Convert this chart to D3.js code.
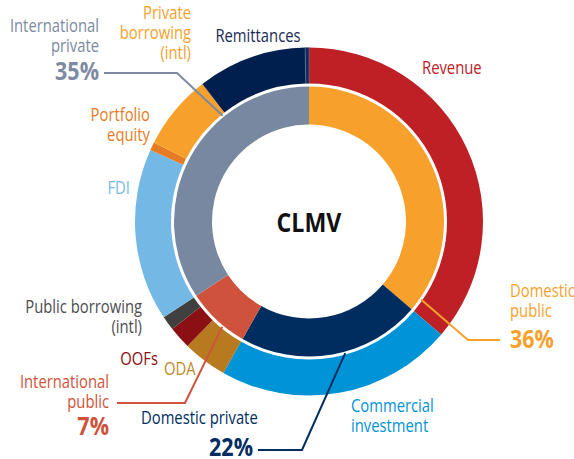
<!DOCTYPE html>
<html>
<head>
<meta charset="utf-8">
<script src="https://cdn.jsdelivr.net/npm/d3@7/dist/d3.min.js"></script>
<style>
  body { margin: 0; background: #fff; }
  svg { display: block; }
  text { font-family: "Open Sans", "Noto Sans", sans-serif; }
</style>
</head>
<body>
<svg id="chart" width="574" height="459"></svg>
<script>
// ---- data ----
const innerCategories = ["Domestic public", "Domestic private", "International public", "International private"];
const innerValues = [36.25, 21.94, 7.53, 34.28];
const innerPctLabels = ["36%", "22%", "7%", "35%"];

const outerCategories = ["Revenue", "Commercial investment", "ODA", "OOFs", "Public borrowing (intl)",
  "FDI", "Portfolio equity", "Private borrowing (intl)", "Remittances", "Other"];
const outerValues = [36.25, 21.94, 4.11, 2.08, 1.33, 16.03, 0.75, 7.0, 10.14, 0.36];

// ---- styles ----
const innerColors = ["#f7a12c", "#002d5f", "#cf533c", "#7888a0"];
const outerColors = ["#be2026", "#0093d6", "#b87a1e", "#8b1014", "#404041",
  "#74b9e5", "#e57b25", "#f7a12c", "#001f4e", "#0e2b5e"];

const cx = 309, cy = 221.5;
const outerR = [138, 174];
const innerR = [97, 135];
const SX = 0.78;      // horizontal condense for regular labels
const SXB = 0.86;     // horizontal condense for bold labels

const svg = d3.select("#chart");
const g = svg.append("g").attr("transform", `translate(${cx},${cy})`);

const pie = d3.pie().sort(null).value(d => d.v);

const outerData = pie(outerCategories.map((c, i) => ({ c, v: outerValues[i], col: outerColors[i] })));
const innerData = pie(innerCategories.map((c, i) => ({ c, v: innerValues[i], col: innerColors[i] })));

const arcOuter = d3.arc().innerRadius(outerR[0]).outerRadius(outerR[1]);
const arcInner = d3.arc().innerRadius(innerR[0]).outerRadius(innerR[1]);

g.selectAll("path.outer").data(outerData).enter().append("path")
  .attr("class", "outer")
  .attr("d", arcOuter)
  .attr("fill", d => d.data.col)
  .attr("stroke", d => d.data.c === "Other" ? "#6f82a6" : "none")
  .attr("stroke-width", 0.5);

g.selectAll("path.inner").data(innerData).enter().append("path")
  .attr("class", "inner")
  .attr("d", arcInner)
  .attr("fill", d => d.data.col);

// center label
svg.append("text")
  .attr("transform", `translate(${cx},${cy + 10}) scale(${SXB},1)`)
  .attr("text-anchor", "middle")
  .attr("font-size", 27).attr("font-weight", "bold").attr("fill", "#111")
  .text("CLMV");

// ---- labels (layout) ----
const labelFont = 19;
const labels = [
  { lines: ["International", "private"], x: 99, y: 32, anchor: "end", col: "#7d8aa1", pct: 3, pctY: 80 },
  { lines: ["Private", "borrowing", "(intl)"], x: 191, y: 19, anchor: "end", col: "#f7a12c" },
  { lines: ["Remittances"], x: 258, y: 42, anchor: "middle", col: "#1b2b57" },
  { lines: ["Revenue"], x: 422, y: 74, anchor: "start", col: "#be2026" },
  { lines: ["Portfolio", "equity"], x: 150, y: 121, anchor: "end", col: "#e57b25" },
  { lines: ["FDI"], x: 130, y: 194, anchor: "end", col: "#74b9e5" },
  { lines: ["Public borrowing", "(intl)"], x: 142, y: 313, anchor: "end", col: "#4d4d4f" },
  { lines: ["OOFs"], x: 158, y: 365, anchor: "end", col: "#8b1014" },
  { lines: ["ODA"], x: 164, y: 375, anchor: "start", col: "#c0892e" },
  { lines: ["International", "public"], x: 109, y: 388, anchor: "end", col: "#cf533c", pct: 2, pctY: 435 },
  { lines: ["Domestic private"], x: 141, y: 424, anchor: "start", col: "#002d5f", pct: 1, pctY: 456, pctX: 253, pctAnchor: "end" },
  { lines: ["Commercial", "investment"], x: 351, y: 412, anchor: "start", col: "#0093d6" },
  { lines: ["Domestic", "public"], x: 510, y: 297, anchor: "start", col: "#f7a12c", pct: 0, pctY: 348 }
];

labels.forEach(l => {
  const t = svg.append("text")
    .attr("transform", `translate(${l.x},${l.y}) scale(${SX},1)`)
    .attr("text-anchor", l.anchor)
    .attr("font-size", labelFont)
    .attr("fill", l.col);
  l.lines.forEach((s, i) => {
    t.append("tspan").attr("x", 0).attr("y", i * 20).text(s);
  });
  if (l.pct !== undefined) {
    const px = l.pctX !== undefined ? l.pctX : l.x;
    svg.append("text")
      .attr("transform", `translate(${px},${l.pctY}) scale(${SXB},1)`)
      .attr("text-anchor", l.pctAnchor || l.anchor)
      .attr("font-size", 25).attr("font-weight", "bold")
      .attr("fill", l.col)
      .text(innerPctLabels[l.pct]);
  }
});

// ---- leader lines ----
const deg = Math.PI / 180;
const leaders = [
  { start: [104, 73], elbow: [177, 73], angle: 320.8, col: "#7d8aa1" },
  { start: [117, 403], elbow: [185, 403], angle: 219.5, col: "#cf533c" },
  { start: [258, 450], elbow: [302, 450], angle: 164.6, col: "#002d5f" },
  { start: [500, 340], elbow: [468, 340], angle: 124.8, col: "#f7a12c" }
];
const ra = 136.5;
leaders.forEach(l => {
  const end = [cx + ra * Math.sin(l.angle * deg), cy - ra * Math.cos(l.angle * deg)];
  svg.append("path")
    .attr("d", d3.line()([l.start, l.elbow, end]))
    .attr("fill", "none")
    .attr("stroke", l.col)
    .attr("stroke-width", 2);
});
</script>
</body>
</html>
